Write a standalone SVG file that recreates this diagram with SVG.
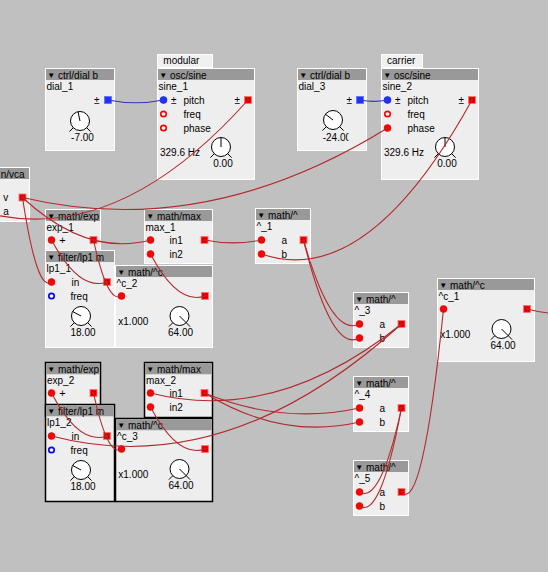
<svg xmlns="http://www.w3.org/2000/svg" width="548" height="572" viewBox="0 0 548 572">
<style>
.t{font-family:"Liberation Sans",Arial,sans-serif;font-size:10px;fill:#000}
.c{text-anchor:middle}
.tri{font-size:8px}
.box{fill:#eeeeee;stroke:#ffffff;stroke-width:1}
.sel{stroke:#000000;stroke-width:1.5}
.hdr{fill:#999999}
.tab{fill:#f0f0f0;stroke:#ffffff;stroke-width:1}
.ind{stroke:#000;stroke-width:1}
.w{fill:none;stroke:#b3282d;stroke-width:1.1}
.wb{fill:none;stroke:#3434c0;stroke-width:1.1}
</style>
<defs>
<circle id="inR" r="3.5" fill="#ff0000" stroke="#d00000" stroke-width="0.5"/>
<circle id="ringR" r="2.7" fill="#ffffff" stroke="#ff0000" stroke-width="1.7"/>
<circle id="ringB" r="2.7" fill="#ffffff" stroke="#0000ff" stroke-width="1.7"/>
<circle id="inB" r="3.5" fill="#1e32ff" stroke="#0010c0" stroke-width="0.5"/>
<g id="outR"><rect x="-3.5" y="-3.5" width="7" height="7" fill="#ff0000" stroke="#ff7070" stroke-width="0.8"/><rect x="-1.8" y="-1.8" width="3.6" height="3.6" fill="none" stroke="#400000" stroke-width="0.6" stroke-dasharray="0.9 0.9"/></g>
<g id="outB"><rect x="-3.5" y="-3.5" width="7" height="7" fill="#1e32ff" stroke="#6070ff" stroke-width="0.8"/></g>
<g id="knob"><circle r="9.5" fill="#ffffff" stroke="#000" stroke-width="1"/><line x1="-6.7" y1="6.7" x2="-10.6" y2="10.6" stroke="#000"/><line x1="6.7" y1="6.7" x2="10.6" y2="10.6" stroke="#000"/></g>
<clipPath id="clip3"><rect x="0" y="60" width="51" height="20"/></clipPath>
</defs>
<rect width="548" height="572" fill="#c0c0c0"/>

<g id="vca" transform="translate(-24.5,167.5)">
<rect class="box" width="54" height="54"/>
<rect class="hdr" x="0.5" y="0.5" width="53" height="11"/>
<text class="t" x="25.2" y="10">n/vca</text>
<text class="t" x="27.8" y="33.5">v</text>
<text class="t" x="27.8" y="47.5">a</text>
<use href="#outR" x="47" y="30"/>
</g>

<g id="dial_1" transform="translate(45.5,68.5)">
<rect class="box" width="69" height="82"/>
<rect class="hdr" x="0.5" y="0.5" width="68" height="11"/>
<text class="t" x="1.8" y="10"><tspan class="tri" dy="-0.3">▼</tspan><tspan dy="0.3"> ctrl/dial b</tspan></text>
<text class="t" x="1" y="21">dial_1</text>
<text class="t" x="48.5" y="35">±</text>
<use href="#outB" x="62.5" y="31.5"/>
<use href="#knob" x="34.5" y="52.5"/>
<line class="ind" x1="34.5" y1="52.5" x2="32.5" y2="43.2"/>
<text class="t c" x="37" y="72.5">-7.00</text>
</g>

<g id="sine_1" transform="translate(157.5,68.5)">
<rect class="tab" x="0" y="-14" width="55" height="13"/>
<text class="t" x="5.8" y="-4.5">modular</text>
<rect class="box" width="97" height="111"/>
<rect class="hdr" x="0.5" y="0.5" width="96" height="11"/>
<text class="t" x="1.8" y="10"><tspan class="tri" dy="-0.3">▼</tspan><tspan dy="0.3"> osc/sine</tspan></text>
<text class="t" x="1" y="21">sine_1</text>
<use href="#inB" x="6" y="31.5"/>
<text class="t" x="13.5" y="35">±</text>
<text class="t" x="26" y="35">pitch</text>
<text class="t" x="77" y="35">±</text>
<use href="#outR" x="90.5" y="31.5"/>
<use href="#ringR" x="6" y="45.5"/>
<text class="t" x="26" y="49">freq</text>
<use href="#ringR" x="6" y="59.5"/>
<text class="t" x="26" y="63">phase</text>
<text class="t" x="2.5" y="87.5">329.6 Hz</text>
<use href="#knob" x="63.5" y="78.5"/>
<line class="ind" x1="63.5" y1="78.5" x2="63.5" y2="69"/>
<text class="t c" x="65.5" y="98.5">0.00</text>
</g>

<g id="dial_3" transform="translate(297.5,68.5)">
<rect class="box" width="69" height="82"/>
<rect class="hdr" x="0.5" y="0.5" width="68" height="11"/>
<text class="t" x="1.8" y="10"><tspan class="tri" dy="-0.3">▼</tspan><tspan dy="0.3"> ctrl/dial b</tspan></text>
<text class="t" x="1" y="21">dial_3</text>
<text class="t" x="49" y="35">±</text>
<use href="#outB" x="62.5" y="31.5"/>
<use href="#knob" x="35.5" y="51.5"/>
<line class="ind" x1="35.5" y1="51.5" x2="28" y2="45.7"/>
<text class="t" x="25.2" y="72.5" clip-path="url(#clip3)">-24.00</text>
</g>

<g id="sine_2" transform="translate(381.5,68.5)">
<rect class="tab" x="0" y="-14" width="41" height="13"/>
<text class="t" x="5.5" y="-4.5">carrier</text>
<rect class="box" width="97" height="111"/>
<rect class="hdr" x="0.5" y="0.5" width="96" height="11"/>
<text class="t" x="1.8" y="10"><tspan class="tri" dy="-0.3">▼</tspan><tspan dy="0.3"> osc/sine</tspan></text>
<text class="t" x="1" y="21">sine_2</text>
<use href="#inB" x="6" y="31.5"/>
<text class="t" x="13.5" y="35">±</text>
<text class="t" x="26" y="35">pitch</text>
<text class="t" x="77" y="35">±</text>
<use href="#outR" x="90.5" y="31.5"/>
<use href="#ringR" x="6" y="45.5"/>
<text class="t" x="26" y="49">freq</text>
<use href="#inR" x="6" y="59.5"/>
<text class="t" x="26" y="63">phase</text>
<text class="t" x="2.5" y="87.5">329.6 Hz</text>
<use href="#knob" x="63.5" y="78.5"/>
<line class="ind" x1="63.5" y1="78.5" x2="63.5" y2="69"/>
<text class="t c" x="65.5" y="98.5">0.00</text>
</g>

<g id="exp_1" transform="translate(45.5,209.5)">
<rect class="box" width="55" height="54"/>
<rect class="hdr" x="0.5" y="0.5" width="54" height="11"/>
<text class="t" x="1.8" y="10"><tspan class="tri" dy="-0.3">▼</tspan><tspan dy="0.3"> math/exp</tspan></text>
<text class="t" x="1" y="21">exp_1</text>
<use href="#inR" x="6" y="30.5"/>
<text class="t" x="13.8" y="34.5" style="font-size:11px">+</text>
<use href="#outR" x="48" y="30.5"/>
</g>

<g id="lp1_1" transform="translate(45.5,250.5)">
<rect class="box" width="69" height="97"/>
<rect class="hdr" x="0.5" y="0.5" width="68" height="11"/>
<text class="t" x="1.8" y="10"><tspan class="tri" dy="-0.3">▼</tspan><tspan dy="0.3"> filter/lp1 m</tspan></text>
<text class="t" x="1" y="21">lp1_1</text>
<use href="#inR" x="6" y="31.5"/>
<text class="t" x="26" y="35">in</text>
<use href="#outR" x="61.5" y="31.5"/>
<use href="#ringB" x="6" y="45.5"/>
<text class="t" x="25" y="49">freq</text>
<use href="#knob" x="35.5" y="65.5"/>
<line class="ind" x1="35.5" y1="65.5" x2="27.1" y2="61"/>
<text class="t c" x="37.5" y="85.5">18.00</text>
</g>

<g id="max_1" transform="translate(144.5,209.5)">
<rect class="box" width="68" height="54"/>
<rect class="hdr" x="0.5" y="0.5" width="67" height="11"/>
<text class="t" x="1.8" y="10"><tspan class="tri" dy="-0.3">▼</tspan><tspan dy="0.3"> math/max</tspan></text>
<text class="t" x="1" y="21">max_1</text>
<use href="#inR" x="6" y="30.5"/>
<text class="t" x="25" y="34">in1</text>
<use href="#outR" x="60" y="30.5"/>
<use href="#inR" x="6" y="44.5"/>
<text class="t" x="25" y="48">in2</text>
</g>

<g id="c_2" transform="translate(115.5,265.5)">
<rect class="box" width="97" height="82"/>
<rect class="hdr" x="0.5" y="0.5" width="96" height="11"/>
<text class="t" x="1.8" y="10"><tspan class="tri" dy="-0.3">▼</tspan><tspan dy="0.3"> math/^c</tspan></text>
<text class="t" x="1" y="21">^c_2</text>
<use href="#inR" x="6" y="30.5"/>
<use href="#outR" x="89.5" y="30.5"/>
<text class="t" x="2.8" y="59">x1.000</text>
<use href="#knob" x="64" y="50.5"/>
<line class="ind" x1="64" y1="50.5" x2="70.7" y2="57.2"/>
<text class="t c" x="65" y="70.5">64.00</text>
</g>

<g id="pow_1" transform="translate(255.5,208.5)">
<rect class="box" width="55" height="55"/>
<rect class="hdr" x="0.5" y="0.5" width="54" height="11"/>
<text class="t" x="1.8" y="10"><tspan class="tri" dy="-0.3">▼</tspan><tspan dy="0.3"> math/^</tspan></text>
<text class="t" x="1" y="21">^_1</text>
<use href="#inR" x="6" y="31.5"/>
<text class="t" x="26" y="35">a</text>
<use href="#outR" x="48" y="31.5"/>
<use href="#inR" x="6" y="45.5"/>
<text class="t" x="26" y="49">b</text>
</g>

<g id="pow_3" transform="translate(353.5,292.5)">
<rect class="box" width="55" height="55"/>
<rect class="hdr" x="0.5" y="0.5" width="54" height="11"/>
<text class="t" x="1.8" y="10"><tspan class="tri" dy="-0.3">▼</tspan><tspan dy="0.3"> math/^</tspan></text>
<text class="t" x="1" y="21">^_3</text>
<use href="#inR" x="6" y="31.5"/>
<text class="t" x="26" y="35">a</text>
<use href="#outR" x="48" y="31.5"/>
<use href="#inR" x="6" y="45.5"/>
<text class="t" x="26" y="49">b</text>
</g>

<g id="c_1" transform="translate(437.5,278.5)">
<rect class="box" width="97" height="83"/>
<rect class="hdr" x="0.5" y="0.5" width="96" height="11"/>
<text class="t" x="1.8" y="10"><tspan class="tri" dy="-0.3">▼</tspan><tspan dy="0.3"> math/^c</tspan></text>
<text class="t" x="1" y="21">^c_1</text>
<use href="#inR" x="6" y="30.5"/>
<use href="#outR" x="89.5" y="30.5"/>
<text class="t" x="2.8" y="59.5">x1.000</text>
<use href="#knob" x="64" y="50.5"/>
<line class="ind" x1="64" y1="50.5" x2="70.7" y2="57.2"/>
<text class="t c" x="65.5" y="70.5">64.00</text>
</g>

<g id="pow_4" transform="translate(353.5,376.5)">
<rect class="box" width="55" height="55"/>
<rect class="hdr" x="0.5" y="0.5" width="54" height="11"/>
<text class="t" x="1.8" y="10"><tspan class="tri" dy="-0.3">▼</tspan><tspan dy="0.3"> math/^</tspan></text>
<text class="t" x="1" y="21">^_4</text>
<use href="#inR" x="6" y="31.5"/>
<text class="t" x="26" y="35">a</text>
<use href="#outR" x="48" y="31.5"/>
<use href="#inR" x="6" y="45.5"/>
<text class="t" x="26" y="49">b</text>
</g>

<g id="pow_5" transform="translate(353.5,460.5)">
<rect class="box" width="55" height="55"/>
<rect class="hdr" x="0.5" y="0.5" width="54" height="11"/>
<text class="t" x="1.8" y="10"><tspan class="tri" dy="-0.3">▼</tspan><tspan dy="0.3"> math/^</tspan></text>
<text class="t" x="1" y="21">^_5</text>
<use href="#inR" x="6" y="31.5"/>
<text class="t" x="26" y="35">a</text>
<use href="#outR" x="48" y="31.5"/>
<use href="#inR" x="6" y="45.5"/>
<text class="t" x="26" y="49">b</text>
</g>

<g id="exp_2" transform="translate(45.5,362.5)">
<rect class="box sel" width="55" height="54"/>
<rect class="hdr" x="0.75" y="0.75" width="53.5" height="11"/>
<text class="t" x="1.8" y="10"><tspan class="tri" dy="-0.3">▼</tspan><tspan dy="0.3"> math/exp</tspan></text>
<text class="t" x="1.5" y="21">exp_2</text>
<use href="#inR" x="6" y="30.5"/>
<text class="t" x="13.8" y="34.5" style="font-size:11px">+</text>
<use href="#outR" x="48" y="30.5"/>
</g>

<g id="lp1_2" transform="translate(45.5,404.5)">
<rect class="box sel" width="69" height="97"/>
<rect class="hdr" x="0.75" y="0.75" width="67.5" height="11"/>
<text class="t" x="1.8" y="10"><tspan class="tri" dy="-0.3">▼</tspan><tspan dy="0.3"> filter/lp1 m</tspan></text>
<text class="t" x="1.5" y="21">lp1_2</text>
<use href="#inR" x="6" y="31.5"/>
<text class="t" x="26" y="35">in</text>
<use href="#outR" x="61.5" y="31.5"/>
<use href="#ringB" x="6" y="45.5"/>
<text class="t" x="25" y="49">freq</text>
<use href="#knob" x="35.5" y="65.5"/>
<line class="ind" x1="35.5" y1="65.5" x2="27.1" y2="61"/>
<text class="t c" x="37.5" y="85.5">18.00</text>
</g>

<g id="max_2" transform="translate(144.5,362.5)">
<rect class="box sel" width="68" height="55"/>
<rect class="hdr" x="0.75" y="0.75" width="66.5" height="11"/>
<text class="t" x="1.8" y="10"><tspan class="tri" dy="-0.3">▼</tspan><tspan dy="0.3"> math/max</tspan></text>
<text class="t" x="1.5" y="21">max_2</text>
<use href="#inR" x="6" y="30.5"/>
<text class="t" x="25" y="34">in1</text>
<use href="#outR" x="60" y="30.5"/>
<use href="#inR" x="6" y="44.5"/>
<text class="t" x="25" y="48">in2</text>
</g>

<g id="c_3" transform="translate(115.5,418.5)">
<rect class="box sel" width="97" height="83"/>
<rect class="hdr" x="0.75" y="0.75" width="95.5" height="11"/>
<text class="t" x="1.8" y="10"><tspan class="tri" dy="-0.3">▼</tspan><tspan dy="0.3"> math/^c</tspan></text>
<text class="t" x="1.5" y="21">^c_3</text>
<use href="#inR" x="6" y="30.5"/>
<use href="#outR" x="89.5" y="30.5"/>
<text class="t" x="2.8" y="59.5">x1.000</text>
<use href="#knob" x="64" y="50.5"/>
<line class="ind" x1="64" y1="50.5" x2="70.7" y2="57.2"/>
<text class="t c" x="65.5" y="70.5">64.00</text>
</g>

<g id="connectors">
<path class="wb" d="M108,100 Q135.75,105.55 163.5,100"/>
<path class="wb" d="M360,100 Q373.75,102.75 387.5,100"/>
<path class="w" d="M248,100 Q114.75,249.3 -18.5,211.5"/>
<path class="w" d="M22.5,197.5 Q205,240.95 387.5,128"/>
<path class="w" d="M22.5,197.5 Q37,293.35 51.5,282"/>
<path class="w" d="M22.5,197.5 Q86.5,257.05 150.5,240"/>
<path class="w" d="M107,282 Q79.25,291.75 51.5,240"/>
<path class="w" d="M93.5,240 Q107.5,304.4 121.5,296"/>
<path class="w" d="M205,296 Q177.75,305.65 150.5,254"/>
<path class="w" d="M204.5,240 Q233,245.7 261.5,240"/>
<path class="w" d="M472,100 Q366.75,290.45 261.5,254"/>
<path class="w" d="M303.5,240 Q331.5,338 359.5,324"/>
<path class="w" d="M303.5,240 Q331.5,353.4 359.5,338"/>
<path class="w" d="M401.5,324 Q276,425 150.5,393"/>
<path class="w" d="M401.5,324 Q226.5,482.2 51.5,436"/>
<path class="w" d="M204.5,393 Q282,425 359.5,408"/>
<path class="w" d="M204.5,393 Q282,440.4 359.5,422"/>
<path class="w" d="M401.5,408 Q380.5,504.6 359.5,492"/>
<path class="w" d="M401.5,408 Q380.5,520 359.5,506"/>
<path class="w" d="M401.5,492 Q422.5,514.5 443.5,309"/>
<path class="w" d="M527,309 Q563.5,318.5 600,311"/>
<path class="w" d="M107,436 Q79.25,445.85 51.5,393"/>
<path class="w" d="M93.5,393 Q107.5,457.4 121.5,449"/>
<path class="w" d="M205,449 Q177.75,458.65 150.5,407"/>
</g>
</svg>
